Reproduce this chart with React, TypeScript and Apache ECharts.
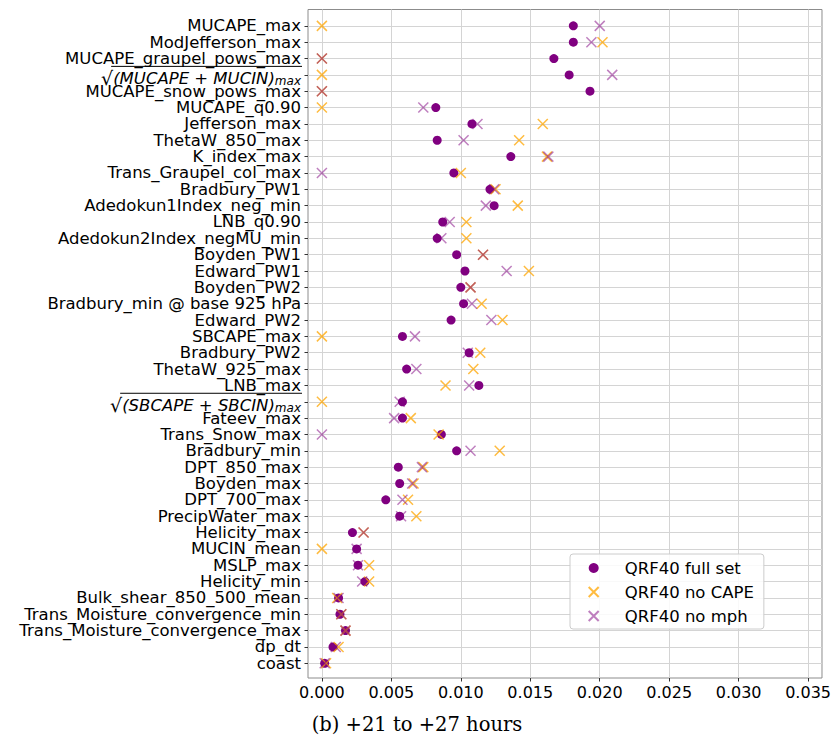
import React, { useEffect, useRef } from "react";
import * as echarts from "echarts";

const categories: string[] = [
  "MUCAPE_max", "ModJefferson_max", "MUCAPE_graupel_pows_max", "SQRT_MU", "MUCAPE_snow_pows_max",
  "MUCAPE_q0.90", "Jefferson_max", "ThetaW_850_max", "K_index_max", "Trans_Graupel_col_max",
  "Bradbury_PW1", "Adedokun1Index_neg_min", "LNB_q0.90", "Adedokun2Index_negMU_min", "Boyden_PW1",
  "Edward_PW1", "Boyden_PW2", "Bradbury_min @ base 925 hPa", "Edward_PW2", "SBCAPE_max",
  "Bradbury_PW2", "ThetaW_925_max", "LNB_max", "SQRT_SB", "Fateev_max",
  "Trans_Snow_max", "Bradbury_min", "DPT_850_max", "Boyden_max", "DPT_700_max",
  "PrecipWater_max", "Helicity_max", "MUCIN_mean", "MSLP_max", "Helicity_min",
  "Bulk_shear_850_500_mean", "Trans_Moisture_convergence_min", "Trans_Moisture_convergence_max", "dp_dt", "coast",
];

const fullSet: number[] = [
  0.0181, 0.0181, 0.0167, 0.0178, 0.0193,
  0.0082, 0.0108, 0.0083, 0.0136, 0.0095,
  0.0121, 0.0124, 0.0087, 0.0083, 0.0097,
  0.0103, 0.0100, 0.0102, 0.0093, 0.0058,
  0.0106, 0.0061, 0.0113, 0.0058, 0.0058,
  0.0086, 0.0097, 0.0055, 0.0056, 0.0046,
  0.0056, 0.0022, 0.0025, 0.0026, 0.0031,
  0.0012, 0.0013, 0.0017, 0.0008, 0.0002,
];

const noCape: number[] = [
  0.0, 0.0202, 0.0, 0.0, 0.0,
  0.0, 0.0159, 0.0142, 0.0162, 0.0100,
  0.0125, 0.0141, 0.0104, 0.0104, 0.0116,
  0.0149, 0.0107, 0.0115, 0.0130, 0.0,
  0.0114, 0.0109, 0.0089, 0.0, 0.0064,
  0.0084, 0.0128, 0.0073, 0.0066, 0.0062,
  0.0068, 0.0030, 0.0, 0.0034, 0.0034,
  0.0011, 0.0014, 0.0017, 0.0012, 0.0003,
];

const noMph: number[] = [
  0.0200, 0.0194, 0.0, 0.0209, 0.0,
  0.0073, 0.0112, 0.0102, 0.0163, 0.0,
  0.0124, 0.0118, 0.0092, 0.0086, 0.0116,
  0.0133, 0.0107, 0.0108, 0.0122, 0.0067,
  0.0105, 0.0068, 0.0106, 0.0056, 0.0052,
  0.0, 0.0107, 0.0072, 0.0065, 0.0058,
  0.0057, 0.0030, 0.0025, 0.0026, 0.0029,
  0.0012, 0.0014, 0.0017, 0.0010, 0.0002,
];

const xTicks: number[] = [0, 0.005, 0.01, 0.015, 0.02, 0.025, 0.03, 0.035];
const seriesNames: string[] = ["QRF40 full set", "QRF40 no CAPE", "QRF40 no mph"];
const sqrtLabels: Record<string, { body: string; sub: string }> = {
  SQRT_MU: { body: "(MUCAPE + MUCIN)", sub: "max" },
  SQRT_SB: { body: "(SBCAPE + SBCIN)", sub: "max" },
};
const caption = "(b) +21 to +27 hours";

const XPATH = "path://M0,0L10,10M10,0L0,10";
const LABEL_FONT = 16.5;
const SUB_FONT = 12;
const GRID = { left: 308, top: 9.5, right: 11, bottom: 62 };
const LABEL_MARGIN = 7;
const Y_MIN = -1;
const Y_MAX = 39.9;

export default function App() {
  const ref = useRef<HTMLDivElement>(null);
  useEffect(() => {
    document.body.style.margin = "0";
    if (!ref.current) return;
    const chart = echarts.init(ref.current, undefined, { renderer: "svg" });
    const idx = categories.map((_, i) => i);
    const labelValues = [Y_MIN, ...idx, Y_MAX];
    const toData = (arr: number[]) => arr.map((v, i) => [v, i]);
    const font = "DejaVu Sans";
    const option: any = {
      animation: false,
      backgroundColor: "#ffffff",
      grid: {
        left: GRID.left, top: GRID.top, right: GRID.right, bottom: GRID.bottom,
        show: true, borderColor: "#8c8c8c", borderWidth: 1, backgroundColor: "transparent",
      },
      xAxis: {
        type: "value", min: -0.001, max: 0.036,
        axisLine: { show: false, onZero: false },
        axisTick: { show: true, customValues: xTicks, length: 3.5, lineStyle: { color: "#333" } },
        axisLabel: {
          customValues: xTicks, margin: 6, color: "#000", fontFamily: font, fontSize: 16,
          formatter: (v: number) => v.toFixed(3),
        },
        splitLine: { show: true, lineStyle: { color: "#d4d4d4", width: 1 } },
      },
      yAxis: {
        type: "value", inverse: true, min: Y_MIN, max: Y_MAX, interval: 1,
        axisLine: { show: false, onZero: false },
        axisTick: { show: true, customValues: idx, length: 3.5, lineStyle: { color: "#333" } },
        axisLabel: {
          customValues: labelValues, margin: LABEL_MARGIN, color: "#000", fontFamily: font, fontSize: LABEL_FONT,
          lineHeight: 15, showMinLabel: true, showMaxLabel: true, hideOverlap: false,
          formatter: (v: number) => {
            const i = Math.round(v);
            if (Math.abs(v - i) > 1e-6 || i < 0 || i >= categories.length) return "{tiny| }";
            const name = categories[i];
            const s = sqrtLabels[name];
            if (s) return `{gap| }{sq|√}{it|${s.body}}{sub|${s.sub}}`;
            return name;
          },
          rich: {
            tiny: { fontSize: 1, lineHeight: 1 },
            gap: { fontSize: 1, lineHeight: 25, verticalAlign: "bottom", fontFamily: font },
            sq: { fontSize: 19, lineHeight: 21, verticalAlign: "bottom", fontFamily: font, color: "#000" },
            it: { fontSize: LABEL_FONT, lineHeight: 18, verticalAlign: "bottom", fontStyle: "italic", fontFamily: font, color: "#000" },
            sub: { fontSize: SUB_FONT, lineHeight: 12, verticalAlign: "bottom", fontStyle: "italic", fontFamily: font, color: "#000" },
          },
        },
        splitLine: { show: true, lineStyle: { color: "#d4d4d4", width: 1 } },
      },
      legend: {
        orient: "vertical", left: 570, top: 554,
        padding: [4, 10, 3, 17.7],
        itemWidth: 10, itemHeight: 10, itemGap: 4,
        backgroundColor: "rgba(255,255,255,0.85)", borderColor: "#cccccc", borderWidth: 1, borderRadius: 3,
        textStyle: { fontFamily: font, fontSize: 16.5, color: "#000", lineHeight: 20, padding: [0, 0, 0, 21] },
        data: seriesNames,
      },
      series: [
        {
          name: seriesNames[0], type: "scatter", data: toData(fullSet), symbol: "circle", symbolSize: 9,
          itemStyle: { color: "#800080", opacity: 1 },
        },
        {
          name: seriesNames[1], type: "scatter", data: toData(noCape), symbol: XPATH, symbolSize: 10,
          itemStyle: { color: "rgba(255,165,0,0.75)", borderColor: "rgba(255,165,0,0.75)", borderWidth: 1.5, opacity: 1 },
        },
        {
          name: seriesNames[2], type: "scatter", data: toData(noMph), symbol: XPATH, symbolSize: 10,
          itemStyle: { color: "rgba(128,0,128,0.5)", borderColor: "rgba(128,0,128,0.5)", borderWidth: 1.5, opacity: 1 },
        },
      ],
    };
    chart.setOption(option);

    const canvas = document.createElement("canvas");
    const ctx = canvas.getContext("2d")!;
    const measure = (t: string, f: string) => { ctx.font = f; return ctx.measureText(t).width; };
    const labelRight = GRID.left - LABEL_MARGIN;
    const graphics: any[] = [];
    categories.forEach((name, i) => {
      const s = sqrtLabels[name];
      if (!s) return;
      const y = chart.convertToPixel({ yAxisIndex: 0 }, i) as number;
      const wBody = measure(s.body, `italic ${LABEL_FONT}px "${font}"`);
      const wSub = measure(s.sub, `italic ${SUB_FONT}px "${font}"`);
      const x1 = labelRight - wBody - wSub - 2;
      graphics.push({
        type: "line", silent: true,
        shape: { x1, y1: y - 8.5, x2: labelRight + 1, y2: y - 8.5 },
        style: { stroke: "#000", lineWidth: 1 },
      });
    });
    graphics.push({
      type: "text", left: "center", top: 714,
      style: { text: caption, fontFamily: "DejaVu Serif", fontSize: 19.5, fill: "#000" },
    });
    chart.setOption({ graphic: graphics });
    return () => chart.dispose();
  }, []);
  return <div ref={ref} style={{ width: 834, height: 740 }} />;
}
